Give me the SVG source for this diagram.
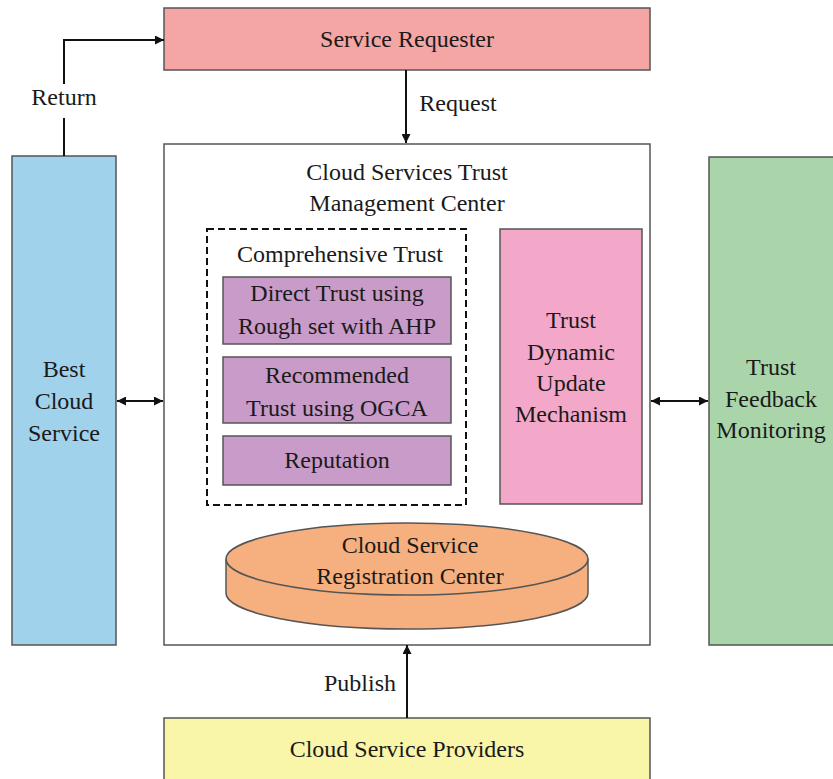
<svg xmlns="http://www.w3.org/2000/svg" width="833" height="779" viewBox="0 0 833 779">
<defs>
<style>
.t{font-family:"Liberation Serif","Times New Roman",serif;font-size:24px;fill:#1a1a1a;text-anchor:middle}
.b{stroke:#555;stroke-width:1.5}
.c{stroke:#111;stroke-width:2;fill:none}
</style>
<marker id="ah" viewBox="0 0 10 10" refX="10" refY="5" markerWidth="6" markerHeight="6" markerUnits="userSpaceOnUse" orient="auto-start-reverse"><path d="M0,0 L10,5 L0,10 z" fill="#111"/></marker>
<marker id="ah2" viewBox="0 0 10 10" refX="10" refY="5" markerWidth="9" markerHeight="9" markerUnits="userSpaceOnUse" orient="auto-start-reverse"><path d="M0,0 L10,5 L0,10 z" fill="#111"/></marker>
</defs>
<rect width="833" height="779" fill="#fff"/>
<g id="service-requester">
<rect class="b" x="164" y="8" width="486" height="62" fill="#F4A6A5"/>
<text class="t" x="407" y="47">Service Requester</text>
</g>
<g id="trust-center">
<rect class="b" x="164" y="144" width="486" height="501" fill="#fff"/>
<text class="t" x="407" y="180">Cloud Services Trust</text>
<text class="t" x="407" y="211">Management Center</text>
</g>
<g id="comprehensive-trust">
<rect x="207" y="229" width="259" height="276" fill="none" stroke="#111" stroke-width="2" stroke-dasharray="7,4"/>
<text class="t" x="340" y="262">Comprehensive Trust</text>
</g>
<g id="direct-trust">
<rect class="b" x="223" y="277" width="228" height="67" fill="#C99BC9"/>
<text class="t" x="337" y="301">Direct Trust using</text>
<text class="t" x="337" y="334">Rough set with AHP</text>
</g>
<g id="recommended-trust">
<rect class="b" x="223" y="357" width="228" height="66" fill="#C99BC9"/>
<text class="t" x="337" y="383">Recommended</text>
<text class="t" x="337" y="416">Trust using OGCA</text>
</g>
<g id="reputation">
<rect class="b" x="223" y="436" width="228" height="49" fill="#C99BC9"/>
<text class="t" x="337" y="468">Reputation</text>
</g>
<g id="trust-dynamic">
<rect class="b" x="500" y="229" width="142" height="275" fill="#F4A8C9"/>
<text class="t" x="571" y="328">Trust</text>
<text class="t" x="571" y="360">Dynamic</text>
<text class="t" x="571" y="391">Update</text>
<text class="t" x="571" y="422">Mechanism</text>
</g>
<g id="registration-center">
<path class="b" d="M226,559 L226,593 A181,36 0 0 0 588,593 L588,559" fill="#F6B07F"/>
<ellipse class="b" cx="407" cy="559" rx="181" ry="36" fill="#F6B07F"/>
<text class="t" x="410" y="553">Cloud Service</text>
<text class="t" x="410" y="584">Registration Center</text>
</g>
<g id="best-cloud-service">
<rect class="b" x="12" y="156" width="104" height="489" fill="#A0D2EC"/>
<text class="t" x="64" y="377">Best</text>
<text class="t" x="64" y="409">Cloud</text>
<text class="t" x="64" y="441">Service</text>
</g>
<g id="trust-feedback">
<rect class="b" x="709" y="157" width="130" height="488" fill="#AAD5AA"/>
<text class="t" x="771" y="375">Trust</text>
<text class="t" x="771" y="407">Feedback</text>
<text class="t" x="771" y="438">Monitoring</text>
</g>
<g id="providers">
<rect class="b" x="164" y="718" width="486" height="66" fill="#F9F5A9"/>
<text class="t" x="407" y="757">Cloud Service Providers</text>
</g>
<g id="connectors">
<path class="c" d="M64,156 L64,118"/>
<path class="c" d="M64,84 L64,40 L164,40" marker-end="url(#ah2)"/>
<text class="t" x="64" y="105">Return</text>
<path class="c" d="M406,70 L406,143" marker-end="url(#ah2)"/>
<text class="t" x="458" y="111">Request</text>
<path class="c" d="M117,401 L163,401" marker-start="url(#ah2)" marker-end="url(#ah2)"/>
<path class="c" d="M651,401 L708,401" marker-start="url(#ah2)" marker-end="url(#ah2)"/>
<path class="c" d="M407,718 L407,645" marker-end="url(#ah2)"/>
<text class="t" x="360" y="691">Publish</text>
</g>
</svg>
